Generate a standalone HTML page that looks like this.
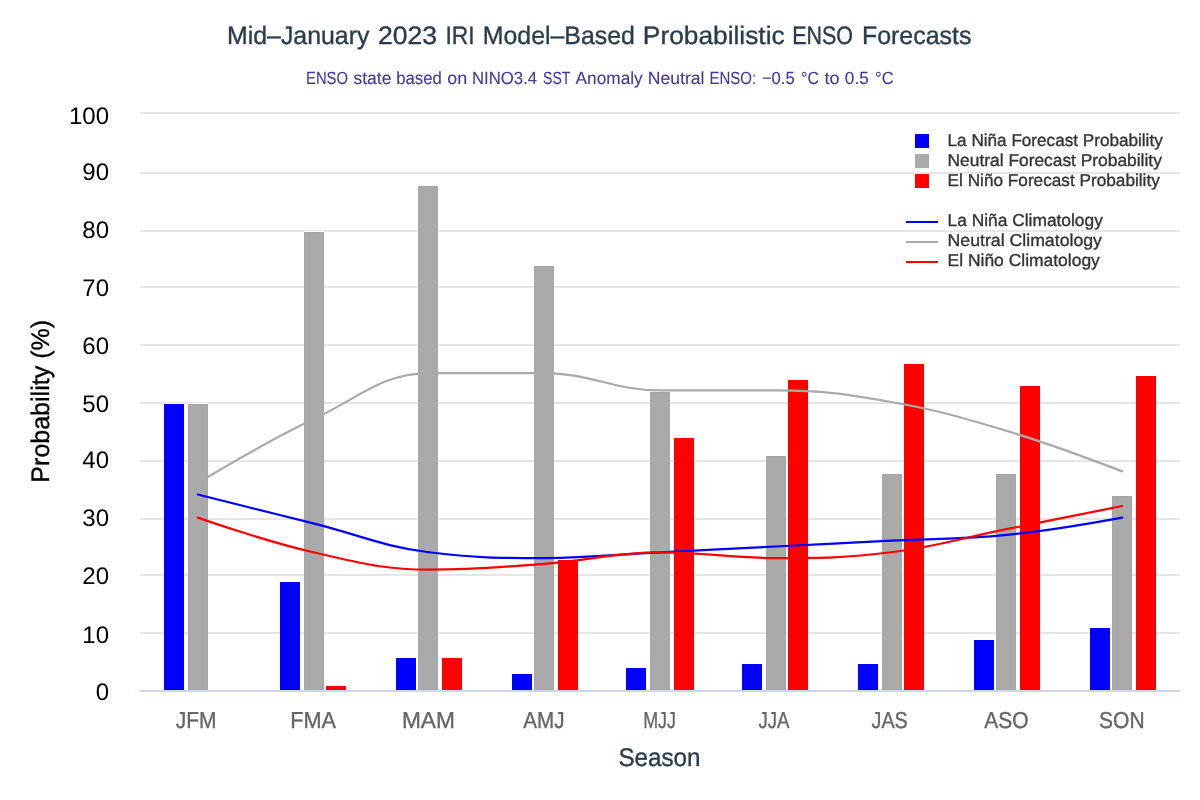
<!DOCTYPE html>
<html><head><meta charset="utf-8"><title>ENSO Forecast</title>
<style>html,body{margin:0;padding:0;background:#fff;width:1200px;height:800px;overflow:hidden;font-family:"Liberation Sans",sans-serif}svg{display:block;will-change:transform}</style>
</head><body>
<svg width="1200" height="800" viewBox="0 0 1200 800" shape-rendering="crispEdges">
<rect x="0" y="0" width="1200" height="800" fill="#ffffff"/>
<rect x="140" y="112" width="1040" height="2" fill="#e6e6e6"/>
<rect x="140" y="172" width="1040" height="2" fill="#e6e6e6"/>
<rect x="140" y="230" width="1040" height="2" fill="#e6e6e6"/>
<rect x="140" y="286" width="1040" height="2" fill="#e6e6e6"/>
<rect x="140" y="344" width="1040" height="2" fill="#e6e6e6"/>
<rect x="140" y="402" width="1040" height="2" fill="#e6e6e6"/>
<rect x="140" y="460" width="1040" height="2" fill="#e6e6e6"/>
<rect x="140" y="518" width="1040" height="2" fill="#e6e6e6"/>
<rect x="140" y="574" width="1040" height="2" fill="#e6e6e6"/>
<rect x="140" y="632" width="1040" height="2" fill="#e6e6e6"/>
<rect x="140" y="690" width="1040" height="2" fill="#ccd6eb"/>
<rect x="164" y="403" width="20" height="1" fill="#ffffff"/>
<rect x="280" y="581" width="20" height="1" fill="#ffffff"/>
<rect x="396" y="657" width="20" height="1" fill="#ffffff"/>
<rect x="512" y="673" width="20" height="1" fill="#ffffff"/>
<rect x="626" y="667" width="20" height="1" fill="#ffffff"/>
<rect x="742" y="663" width="20" height="1" fill="#ffffff"/>
<rect x="858" y="663" width="20" height="1" fill="#ffffff"/>
<rect x="974" y="639" width="20" height="1" fill="#ffffff"/>
<rect x="1090" y="627" width="20" height="1" fill="#ffffff"/>
<rect x="188" y="403" width="20" height="1" fill="#ffffff"/>
<rect x="304" y="231" width="20" height="1" fill="#ffffff"/>
<rect x="418" y="185" width="20" height="1" fill="#ffffff"/>
<rect x="534" y="265" width="20" height="1" fill="#ffffff"/>
<rect x="650" y="391" width="20" height="1" fill="#ffffff"/>
<rect x="766" y="455" width="20" height="1" fill="#ffffff"/>
<rect x="882" y="473" width="20" height="1" fill="#ffffff"/>
<rect x="996" y="473" width="20" height="1" fill="#ffffff"/>
<rect x="1112" y="495" width="20" height="1" fill="#ffffff"/>
<rect x="326" y="685" width="20" height="1" fill="#ffffff"/>
<rect x="442" y="657" width="20" height="1" fill="#ffffff"/>
<rect x="558" y="559" width="20" height="1" fill="#ffffff"/>
<rect x="674" y="437" width="20" height="1" fill="#ffffff"/>
<rect x="788" y="379" width="20" height="1" fill="#ffffff"/>
<rect x="904" y="363" width="20" height="1" fill="#ffffff"/>
<rect x="1020" y="385" width="20" height="1" fill="#ffffff"/>
<rect x="1136" y="375" width="20" height="1" fill="#ffffff"/>
<rect x="164" y="404" width="20" height="286" fill="#0000ff"/>
<rect x="280" y="582" width="20" height="108" fill="#0000ff"/>
<rect x="396" y="658" width="20" height="32" fill="#0000ff"/>
<rect x="512" y="674" width="20" height="16" fill="#0000ff"/>
<rect x="626" y="668" width="20" height="22" fill="#0000ff"/>
<rect x="742" y="664" width="20" height="26" fill="#0000ff"/>
<rect x="858" y="664" width="20" height="26" fill="#0000ff"/>
<rect x="974" y="640" width="20" height="50" fill="#0000ff"/>
<rect x="1090" y="628" width="20" height="62" fill="#0000ff"/>
<rect x="188" y="404" width="20" height="286" fill="#a6a6a6"/>
<rect x="189" y="405" width="18" height="285" fill="#aaaaaa"/>
<rect x="304" y="232" width="20" height="458" fill="#a6a6a6"/>
<rect x="305" y="233" width="18" height="457" fill="#aaaaaa"/>
<rect x="418" y="186" width="20" height="504" fill="#a6a6a6"/>
<rect x="419" y="187" width="18" height="503" fill="#aaaaaa"/>
<rect x="534" y="266" width="20" height="424" fill="#a6a6a6"/>
<rect x="535" y="267" width="18" height="423" fill="#aaaaaa"/>
<rect x="650" y="392" width="20" height="298" fill="#a6a6a6"/>
<rect x="651" y="393" width="18" height="297" fill="#aaaaaa"/>
<rect x="766" y="456" width="20" height="234" fill="#a6a6a6"/>
<rect x="767" y="457" width="18" height="233" fill="#aaaaaa"/>
<rect x="882" y="474" width="20" height="216" fill="#a6a6a6"/>
<rect x="883" y="475" width="18" height="215" fill="#aaaaaa"/>
<rect x="996" y="474" width="20" height="216" fill="#a6a6a6"/>
<rect x="997" y="475" width="18" height="215" fill="#aaaaaa"/>
<rect x="1112" y="496" width="20" height="194" fill="#a6a6a6"/>
<rect x="1113" y="497" width="18" height="193" fill="#aaaaaa"/>
<rect x="326" y="686" width="20" height="4" fill="#ff0000"/>
<rect x="442" y="658" width="20" height="32" fill="#ff0000"/>
<rect x="558" y="560" width="20" height="130" fill="#ff0000"/>
<rect x="674" y="438" width="20" height="252" fill="#ff0000"/>
<rect x="788" y="380" width="20" height="310" fill="#ff0000"/>
<rect x="904" y="364" width="20" height="326" fill="#ff0000"/>
<rect x="1020" y="386" width="20" height="304" fill="#ff0000"/>
<rect x="1136" y="376" width="20" height="314" fill="#ff0000"/>
<g shape-rendering="geometricPrecision">
<path d="M197.78 482.92 C197.78 482.92 267.11 441.30 313.33 419.34 C359.56 397.38 382.67 373.10 428.89 373.10 C475.11 373.10 498.22 373.10 544.44 373.10 C590.67 373.10 613.78 390.44 660.00 390.44 C706.22 390.44 729.33 390.44 775.56 390.44 C821.78 390.44 844.89 393.91 891.11 402.00 C937.33 410.09 960.44 417.03 1006.67 430.90 C1052.89 444.77 1122.22 471.36 1122.22 471.36" fill="none" stroke="#aaaaaa" stroke-width="2.2" stroke-linecap="round" stroke-linejoin="round"/>
<path d="M197.78 494.48 C197.78 494.48 267.11 511.82 313.33 523.38 C359.56 534.94 382.67 546.50 428.89 552.28 C475.11 558.06 498.22 558.06 544.44 558.06 C590.67 558.06 613.78 554.59 660.00 552.28 C706.22 549.97 729.33 548.81 775.56 546.50 C821.78 544.19 844.89 543.03 891.11 540.72 C937.33 538.41 960.44 539.56 1006.67 534.94 C1052.89 530.32 1122.22 517.60 1122.22 517.60" fill="none" stroke="#0000ff" stroke-width="2.2" stroke-linecap="round" stroke-linejoin="round"/>
<path d="M197.78 517.60 C197.78 517.60 267.11 541.88 313.33 552.28 C359.56 562.68 382.67 569.62 428.89 569.62 C475.11 569.62 498.22 567.31 544.44 563.84 C590.67 560.37 613.78 552.28 660.00 552.28 C706.22 552.28 729.33 558.06 775.56 558.06 C821.78 558.06 844.89 558.06 891.11 552.28 C937.33 546.50 960.44 538.41 1006.67 529.16 C1052.89 519.91 1122.22 506.04 1122.22 506.04" fill="none" stroke="#ff0000" stroke-width="2.2" stroke-linecap="round" stroke-linejoin="round"/>
</g>
<g text-rendering="geometricPrecision">
<text x="226.96" y="43.6" font-family="Liberation Sans, sans-serif" font-size="25.3" fill="#283c4b" stroke="#283c4b" stroke-width="0.35" textLength="142.49" lengthAdjust="spacingAndGlyphs">Mid–January</text>
<text x="378.06" y="43.6" font-family="Liberation Sans, sans-serif" font-size="25.3" fill="#283c4b" stroke="#283c4b" stroke-width="0.35" textLength="59.10" lengthAdjust="spacingAndGlyphs">2023</text>
<text x="445.39" y="43.6" font-family="Liberation Sans, sans-serif" font-size="25.3" fill="#283c4b" stroke="#283c4b" stroke-width="0.35" textLength="29.22" lengthAdjust="spacingAndGlyphs">IRI</text>
<text x="482.76" y="43.6" font-family="Liberation Sans, sans-serif" font-size="25.3" fill="#283c4b" stroke="#283c4b" stroke-width="0.35" textLength="152.14" lengthAdjust="spacingAndGlyphs">Model–Based</text>
<text x="642.84" y="43.6" font-family="Liberation Sans, sans-serif" font-size="25.3" fill="#283c4b" stroke="#283c4b" stroke-width="0.35" textLength="141.85" lengthAdjust="spacingAndGlyphs">Probabilistic</text>
<text x="792.24" y="43.6" font-family="Liberation Sans, sans-serif" font-size="25.3" fill="#283c4b" stroke="#283c4b" stroke-width="0.35" textLength="60.79" lengthAdjust="spacingAndGlyphs">ENSO</text>
<text x="861.95" y="43.6" font-family="Liberation Sans, sans-serif" font-size="25.3" fill="#283c4b" stroke="#283c4b" stroke-width="0.35" textLength="109.45" lengthAdjust="spacingAndGlyphs">Forecasts</text>
<text x="306.09" y="83.8" font-family="Liberation Sans, sans-serif" font-size="17.6" fill="#42379a" stroke="#42379a" stroke-width="0.1" textLength="41.92" lengthAdjust="spacingAndGlyphs">ENSO</text>
<text x="353.51" y="83.8" font-family="Liberation Sans, sans-serif" font-size="17.6" fill="#42379a" stroke="#42379a" stroke-width="0.1" textLength="37.97" lengthAdjust="spacingAndGlyphs">state</text>
<text x="396.22" y="83.8" font-family="Liberation Sans, sans-serif" font-size="17.6" fill="#42379a" stroke="#42379a" stroke-width="0.1" textLength="45.56" lengthAdjust="spacingAndGlyphs">based</text>
<text x="447.25" y="83.8" font-family="Liberation Sans, sans-serif" font-size="17.6" fill="#42379a" stroke="#42379a" stroke-width="0.1" textLength="19.91" lengthAdjust="spacingAndGlyphs">on</text>
<text x="471.92" y="83.8" font-family="Liberation Sans, sans-serif" font-size="17.6" fill="#42379a" stroke="#42379a" stroke-width="0.1" textLength="65.27" lengthAdjust="spacingAndGlyphs">NINO3.4</text>
<text x="543.06" y="83.8" font-family="Liberation Sans, sans-serif" font-size="17.6" fill="#42379a" stroke="#42379a" stroke-width="0.1" textLength="27.26" lengthAdjust="spacingAndGlyphs">SST</text>
<text x="575.57" y="83.8" font-family="Liberation Sans, sans-serif" font-size="17.6" fill="#42379a" stroke="#42379a" stroke-width="0.1" textLength="67.17" lengthAdjust="spacingAndGlyphs">Anomaly</text>
<text x="647.86" y="83.8" font-family="Liberation Sans, sans-serif" font-size="17.6" fill="#42379a" stroke="#42379a" stroke-width="0.1" textLength="56.62" lengthAdjust="spacingAndGlyphs">Neutral</text>
<text x="709.47" y="83.8" font-family="Liberation Sans, sans-serif" font-size="17.6" fill="#42379a" stroke="#42379a" stroke-width="0.1" textLength="46.60" lengthAdjust="spacingAndGlyphs">ENSO:</text>
<text x="761.88" y="83.8" font-family="Liberation Sans, sans-serif" font-size="17.6" fill="#42379a" stroke="#42379a" stroke-width="0.1" textLength="32.82" lengthAdjust="spacingAndGlyphs">−0.5</text>
<text x="801.05" y="83.8" font-family="Liberation Sans, sans-serif" font-size="17.6" fill="#42379a" stroke="#42379a" stroke-width="0.1" textLength="17.96" lengthAdjust="spacingAndGlyphs">°C</text>
<text x="824.43" y="83.8" font-family="Liberation Sans, sans-serif" font-size="17.6" fill="#42379a" stroke="#42379a" stroke-width="0.1" textLength="15.03" lengthAdjust="spacingAndGlyphs">to</text>
<text x="844.83" y="83.8" font-family="Liberation Sans, sans-serif" font-size="17.6" fill="#42379a" stroke="#42379a" stroke-width="0.1" textLength="23.89" lengthAdjust="spacingAndGlyphs">0.5</text>
<text x="875.01" y="83.8" font-family="Liberation Sans, sans-serif" font-size="17.6" fill="#42379a" stroke="#42379a" stroke-width="0.1" textLength="18.62" lengthAdjust="spacingAndGlyphs">°C</text>
<text x="109" y="123.86" font-family="Liberation Sans, sans-serif" font-size="24" fill="#000000" text-anchor="end">100</text>
<text x="109" y="180.26" font-family="Liberation Sans, sans-serif" font-size="24" fill="#000000" text-anchor="end">90</text>
<text x="109" y="238.26" font-family="Liberation Sans, sans-serif" font-size="24" fill="#000000" text-anchor="end">80</text>
<text x="109" y="296.26" font-family="Liberation Sans, sans-serif" font-size="24" fill="#000000" text-anchor="end">70</text>
<text x="109" y="353.96" font-family="Liberation Sans, sans-serif" font-size="24" fill="#000000" text-anchor="end">60</text>
<text x="109" y="412.01" font-family="Liberation Sans, sans-serif" font-size="24" fill="#000000" text-anchor="end">50</text>
<text x="109" y="468.26" font-family="Liberation Sans, sans-serif" font-size="24" fill="#000000" text-anchor="end">40</text>
<text x="109" y="526.16" font-family="Liberation Sans, sans-serif" font-size="24" fill="#000000" text-anchor="end">30</text>
<text x="109" y="584.26" font-family="Liberation Sans, sans-serif" font-size="24" fill="#000000" text-anchor="end">20</text>
<text x="109" y="642.56" font-family="Liberation Sans, sans-serif" font-size="24" fill="#000000" text-anchor="end">10</text>
<text x="109" y="700.26" font-family="Liberation Sans, sans-serif" font-size="24" fill="#000000" text-anchor="end">0</text>
<text x="175.67" y="727.75" font-family="Liberation Sans, sans-serif" font-size="23.1" fill="#666666" stroke="#666666" stroke-width="0.35" textLength="40.80" lengthAdjust="spacingAndGlyphs">JFM</text>
<text x="290.22" y="727.75" font-family="Liberation Sans, sans-serif" font-size="23.1" fill="#666666" stroke="#666666" stroke-width="0.35" textLength="45.82" lengthAdjust="spacingAndGlyphs">FMA</text>
<text x="401.89" y="727.75" font-family="Liberation Sans, sans-serif" font-size="23.1" fill="#666666" stroke="#666666" stroke-width="0.35" textLength="53.03" lengthAdjust="spacingAndGlyphs">MAM</text>
<text x="523.36" y="727.75" font-family="Liberation Sans, sans-serif" font-size="23.1" fill="#666666" stroke="#666666" stroke-width="0.35" textLength="41.27" lengthAdjust="spacingAndGlyphs">AMJ</text>
<text x="643.23" y="727.75" font-family="Liberation Sans, sans-serif" font-size="23.1" fill="#666666" stroke="#666666" stroke-width="0.35" textLength="32.80" lengthAdjust="spacingAndGlyphs">MJJ</text>
<text x="758.51" y="727.75" font-family="Liberation Sans, sans-serif" font-size="23.1" fill="#666666" stroke="#666666" stroke-width="0.35" textLength="31.03" lengthAdjust="spacingAndGlyphs">JJA</text>
<text x="871.59" y="727.75" font-family="Liberation Sans, sans-serif" font-size="23.1" fill="#666666" stroke="#666666" stroke-width="0.35" textLength="36.21" lengthAdjust="spacingAndGlyphs">JAS</text>
<text x="984.36" y="727.75" font-family="Liberation Sans, sans-serif" font-size="23.1" fill="#666666" stroke="#666666" stroke-width="0.35" textLength="44.35" lengthAdjust="spacingAndGlyphs">ASO</text>
<text x="1099.05" y="727.75" font-family="Liberation Sans, sans-serif" font-size="23.1" fill="#666666" stroke="#666666" stroke-width="0.35" textLength="45.57" lengthAdjust="spacingAndGlyphs">SON</text>
<text x="618.40" y="766" font-family="Liberation Sans, sans-serif" font-size="25.4" fill="#283c4b" stroke="#283c4b" stroke-width="0.35" textLength="82.17" lengthAdjust="spacingAndGlyphs">Season</text>
<text transform="translate(48.6 480.6) rotate(-90)" x="-2.05" y="0" font-family="Liberation Sans, sans-serif" font-size="25.4" fill="#000000" stroke="#000000" stroke-width="0.35" textLength="162.70" lengthAdjust="spacingAndGlyphs">Probability (%)</text>
<rect x="915" y="134" width="14" height="14" fill="#0000ff" shape-rendering="crispEdges"/>
<text x="947.60" y="146" font-family="Liberation Sans, sans-serif" font-size="17.2" fill="#333333" stroke="#333333" stroke-width="0.35" textLength="215.14" lengthAdjust="spacingAndGlyphs">La Niña Forecast Probability</text>
<rect x="915" y="154" width="14" height="14" fill="#aaaaaa" shape-rendering="crispEdges"/>
<text x="947.58" y="166" font-family="Liberation Sans, sans-serif" font-size="17.2" fill="#333333" stroke="#333333" stroke-width="0.35" textLength="214.26" lengthAdjust="spacingAndGlyphs">Neutral Forecast Probability</text>
<rect x="915" y="174" width="14" height="14" fill="#ff0000" shape-rendering="crispEdges"/>
<text x="947.59" y="186" font-family="Liberation Sans, sans-serif" font-size="17.2" fill="#333333" stroke="#333333" stroke-width="0.35" textLength="212.24" lengthAdjust="spacingAndGlyphs">El Niño Forecast Probability</text>
<rect x="906" y="221" width="32" height="2" fill="#0000ff" shape-rendering="crispEdges"/>
<text x="947.58" y="226" font-family="Liberation Sans, sans-serif" font-size="17.2" fill="#333333" stroke="#333333" stroke-width="0.35" textLength="155.26" lengthAdjust="spacingAndGlyphs">La Niña Climatology</text>
<rect x="906" y="241" width="32" height="2" fill="#aaaaaa" shape-rendering="crispEdges"/>
<text x="947.55" y="246" font-family="Liberation Sans, sans-serif" font-size="17.2" fill="#333333" stroke="#333333" stroke-width="0.35" textLength="154.39" lengthAdjust="spacingAndGlyphs">Neutral Climatology</text>
<rect x="906" y="261" width="32" height="2" fill="#ff0000" shape-rendering="crispEdges"/>
<text x="947.57" y="266" font-family="Liberation Sans, sans-serif" font-size="17.2" fill="#333333" stroke="#333333" stroke-width="0.35" textLength="152.27" lengthAdjust="spacingAndGlyphs">El Niño Climatology</text>
</g>
</svg>
</body></html>
